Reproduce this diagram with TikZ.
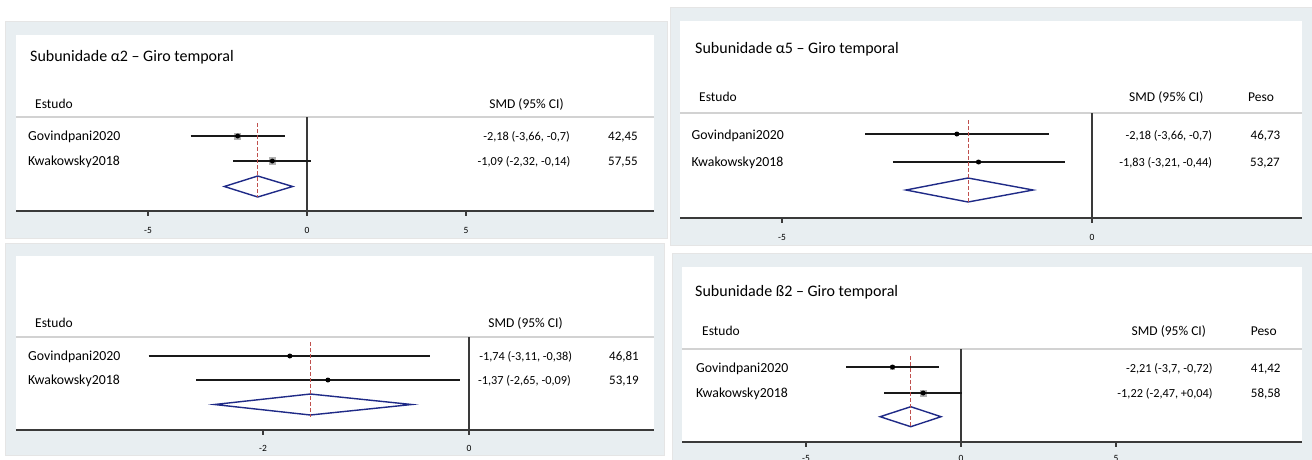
\documentclass[tikz,border=0pt]{standalone}
\usepackage{fontspec}
\setmainfont{Carlito}
\usetikzlibrary{positioning}
\definecolor{panelgray}{HTML}{E8EEF1}
\definecolor{diamondblue}{HTML}{1F2A87}
\definecolor{pooledred}{HTML}{C0504D}
\definecolor{rulegray}{HTML}{D2D2D2}
\definecolor{axisgray}{HTML}{3A3A3A}

\begin{document}
\begin{tikzpicture}[x=1pt, y=-1pt,
  panel/.style={fill=panelgray, draw=gray!20, line width=0.6pt},
  plotarea/.style={fill=white},
  title/.style={anchor=base west, inner sep=0pt, font=\fontsize{16}{19}\selectfont},
  header/.style={anchor=base, inner sep=0pt, font=\fontsize{13.5}{16}\selectfont},
  study/.style={anchor=base west, inner sep=0pt, font=\fontsize{13.8}{16}\selectfont},
  estimate/.style={anchor=base east, inner sep=0pt, font=\fontsize{12.3}{15}\selectfont},
  weight/.style={anchor=base west, inner sep=0pt, font=\fontsize{13}{15}\selectfont},
  ticklabel/.style={inner sep=0pt, font=\fontsize{9.5}{11}\selectfont},
  rule/.style={draw=rulegray, line width=1.4pt},
  axis/.style={draw=axisgray, line width=1.4pt},
  nullline/.style={draw=axisgray, line width=1.3pt},
  ci/.style={draw=black!90, line width=1.4pt},
  wbox/.style={fill=black!30, inner sep=0pt, minimum size=#1},
  point/.style={circle, fill=black, inner sep=0pt, minimum size=5pt},
  pooled/.style={draw=diamondblue, line width=1.4pt, line join=miter},
  overall/.style={draw=pooledred, line width=1pt, dash pattern=on 3.5pt off 2.5pt}]

\useasboundingbox (0,0) rectangle (1312,459);
\fill[white] (0,0) rectangle (1312,459);

% --- alpha2 (top left)
\draw[panel] (5,21) rectangle (667,238);
\fill[plotarea] (16,35) rectangle (654,211);
\node[title] (tl-title) at (30,61.5) {Subunidade α2 – Giro temporal};
\node[header, anchor=base west] (tl-estudo) at (35,108) {Estudo};
\node[header] (tl-smd) at (526.5,108) {SMD (95\% CI)};
\node[study] (tl-gov) at (28,140.5) {Govindpani2020};
\node[study] (tl-kwa) at (28,165.5) {Kwakowsky2018};
\node[estimate] (tl-gov-est) at (570,140.5) {-2,18 (-3,66, -0,7)};
\node[estimate] (tl-kwa-est) at (570.5,165.5) {-1,09 (-2,32, -0,14)};
\node[weight] (tl-gov-w) at (608,140.5) {42,45};
\node[weight] (tl-kwa-w) at (608,165.5) {57,55};
\coordinate (tl-rule-l) at (16,117);
\coordinate (tl-rule-r) at (654,117);
\coordinate (tl-axis-l) at (16,211);
\coordinate (tl-axis-r) at (654,211);
\draw[rule] (tl-rule-l) -- (tl-rule-r);
\draw[axis] (tl-axis-l) -- (tl-axis-r);
\begin{scope}[xshift=307pt, x=31.8pt]
  \coordinate (tl-null-top) at (0,117);
  \coordinate (tl-null-bot) at (0,211);
  \draw[nullline] (tl-null-top) -- (tl-null-bot);
  \foreach \t in {-5,0,5} {
    \coordinate (tl-tick\t) at (\t,211);
    \draw[axis, line width=1.2pt] (tl-tick\t) -- ++(0,5);
    \node[ticklabel] (tl-lab\t) at (\t,230) {\t};
  }
  \foreach \n/\y/\est/\lo/\hi/\w in {gov/136/-2.18/-3.66/-0.7/7pt, kwa/161/-1.09/-2.32/0.13/7.5pt} {
    \coordinate (tl-\n-lo) at (\lo,\y);
    \coordinate (tl-\n-hi) at (\hi,\y);
    \node[wbox=\w] (tl-\n-box) at (\est,\y) {};
    \draw[ci] (tl-\n-lo) -- (tl-\n-hi);
    \node[point] (tl-\n-pt) at (\est,\y) {};
  }
  \coordinate (tl-dl) at (-2.6,186.5);
  \coordinate (tl-dt) at (-1.55,176);
  \coordinate (tl-dr) at (-0.45,186.5);
  \coordinate (tl-db) at (-1.55,197);
  \draw[pooled] (tl-dl) -- (tl-dt) -- (tl-dr) -- (tl-db) -- cycle;
  \coordinate (tl-ov-top) at (-1.55,123);
  \coordinate (tl-ov-bot) at (-1.55,197);
  \draw[overall] (tl-ov-top) -- (tl-ov-bot);
\end{scope}

% --- alpha5 (top right)
\draw[panel] (670,7) rectangle (1320,245);
\fill[plotarea] (680,21) rectangle (1302,218);
\node[title] (tr-title) at (695,53.3) {Subunidade α5 – Giro temporal};
\node[header, anchor=base west] (tr-estudo) at (699,101.5) {Estudo};
\node[header] (tr-smd) at (1166.3,101) {SMD (95\% CI)};
\node[header] (tr-peso) at (1261,101) {Peso};
\node[study] (tr-gov) at (691.5,139) {Govindpani2020};
\node[study] (tr-kwa) at (691.5,166.5) {Kwakowsky2018};
\node[estimate] (tr-gov-est) at (1212.3,139) {-2,18 (-3,66, -0,7)};
\node[estimate] (tr-kwa-est) at (1212.3,166.5) {-1,83 (-3,21, -0,44)};
\node[weight] (tr-gov-w) at (1250.5,139) {46,73};
\node[weight] (tr-kwa-w) at (1250,166.5) {53,27};
\coordinate (tr-rule-l) at (680,113);
\coordinate (tr-rule-r) at (1302,113);
\coordinate (tr-axis-l) at (680,218);
\coordinate (tr-axis-r) at (1302,218);
\draw[rule] (tr-rule-l) -- (tr-rule-r);
\draw[axis] (tr-axis-l) -- (tr-axis-r);
\begin{scope}[xshift=1092pt, x=62pt]
  \coordinate (tr-null-top) at (0,113);
  \coordinate (tr-null-bot) at (0,218);
  \draw[nullline] (tr-null-top) -- (tr-null-bot);
  \foreach \t in {-5,0} {
    \coordinate (tr-tick\t) at (\t,218);
    \draw[axis, line width=1.2pt] (tr-tick\t) -- ++(0,5);
    \node[ticklabel] (tr-lab\t) at (\t,237) {\t};
  }
  \foreach \n/\y/\est/\lo/\hi/\w in {gov/134/-2.18/-3.66/-0.7/4pt, kwa/162/-1.83/-3.21/-0.44/4.5pt} {
    \coordinate (tr-\n-lo) at (\lo,\y);
    \coordinate (tr-\n-hi) at (\hi,\y);
    \node[wbox=\w] (tr-\n-box) at (\est,\y) {};
    \draw[ci] (tr-\n-lo) -- (tr-\n-hi);
    \node[point] (tr-\n-pt) at (\est,\y) {};
  }
  \coordinate (tr-dl) at (-3.0,190);
  \coordinate (tr-dt) at (-2.0,178);
  \coordinate (tr-dr) at (-0.95,190);
  \coordinate (tr-db) at (-2.0,202);
  \draw[pooled] (tr-dl) -- (tr-dt) -- (tr-dr) -- (tr-db) -- cycle;
  \coordinate (tr-ov-top) at (-2.0,120);
  \coordinate (tr-ov-bot) at (-2.0,204);
  \draw[overall] (tr-ov-top) -- (tr-ov-bot);
\end{scope}

% --- untitled (bottom left)
\draw[panel] (5,243) rectangle (664,455);
\fill[plotarea] (16,256) rectangle (654,430);
\node[header, anchor=base west] (bl-estudo) at (35,327) {Estudo};
\node[header] (bl-smd) at (525.5,327) {SMD (95\% CI)};
\node[study] (bl-gov) at (28,360.5) {Govindpani2020};
\node[study] (bl-kwa) at (28,384.5) {Kwakowsky2018};
\node[estimate] (bl-gov-est) at (572.3,360.5) {-1,74 (-3,11, -0,38)};
\node[estimate] (bl-kwa-est) at (571,384.5) {-1,37 (-2,65, -0,09)};
\node[weight] (bl-gov-w) at (609,360.5) {46,81};
\node[weight] (bl-kwa-w) at (609,384.5) {53,19};
\coordinate (bl-rule-l) at (16,337);
\coordinate (bl-rule-r) at (654,337);
\coordinate (bl-axis-l) at (16,430);
\coordinate (bl-axis-r) at (654,430);
\draw[rule] (bl-rule-l) -- (bl-rule-r);
\draw[axis] (bl-axis-l) -- (bl-axis-r);
\begin{scope}[xshift=469pt, x=103pt]
  \coordinate (bl-null-top) at (0,337);
  \coordinate (bl-null-bot) at (0,430);
  \draw[nullline] (bl-null-top) -- (bl-null-bot);
  \foreach \t in {-2,0} {
    \coordinate (bl-tick\t) at (\t,430);
    \draw[axis, line width=1.2pt] (bl-tick\t) -- ++(0,5);
    \node[ticklabel] (bl-lab\t) at (\t,448) {\t};
  }
  \foreach \n/\y/\est/\lo/\hi/\w in {gov/356/-1.74/-3.11/-0.38/4pt, kwa/380/-1.37/-2.65/-0.09/4.5pt} {
    \coordinate (bl-\n-lo) at (\lo,\y);
    \coordinate (bl-\n-hi) at (\hi,\y);
    \node[wbox=\w] (bl-\n-box) at (\est,\y) {};
    \draw[ci] (bl-\n-lo) -- (bl-\n-hi);
    \node[point] (bl-\n-pt) at (\est,\y) {};
  }
  \coordinate (bl-dl) at (-2.47,404.5);
  \coordinate (bl-dt) at (-1.54,394);
  \coordinate (bl-dr) at (-0.556,404.5);
  \coordinate (bl-db) at (-1.54,415);
  \draw[pooled] (bl-dl) -- (bl-dt) -- (bl-dr) -- (bl-db) -- cycle;
  \coordinate (bl-ov-top) at (-1.54,342);
  \coordinate (bl-ov-bot) at (-1.54,417);
  \draw[overall] (bl-ov-top) -- (bl-ov-bot);
\end{scope}

% --- beta2 (bottom right)
\draw[panel] (672,253) rectangle (1320,475);
\fill[plotarea] (682,267) rectangle (1302,442);
\node[title] (br-title) at (695,296.5) {Subunidade ß2 – Giro temporal};
\node[header, anchor=base west] (br-estudo) at (702,335) {Estudo};
\node[header] (br-smd) at (1168.8,335) {SMD (95\% CI)};
\node[header] (br-peso) at (1263.7,335) {Peso};
\node[study] (br-gov) at (696,372.5) {Govindpani2020};
\node[study] (br-kwa) at (696,397.5) {Kwakowsky2018};
\node[estimate] (br-gov-est) at (1212.7,372.5) {-2,21 (-3,7, -0,72)};
\node[estimate] (br-kwa-est) at (1212.7,397.5) {-1,22 (-2,47, +0,04)};
\node[weight] (br-gov-w) at (1250.7,372.5) {41,42};
\node[weight] (br-kwa-w) at (1250.7,397.5) {58,58};
\coordinate (br-rule-l) at (682,349);
\coordinate (br-rule-r) at (1302,349);
\coordinate (br-axis-l) at (682,442);
\coordinate (br-axis-r) at (1302,442);
\draw[rule] (br-rule-l) -- (br-rule-r);
\draw[axis] (br-axis-l) -- (br-axis-r);
\begin{scope}[xshift=961pt, x=31pt]
  \coordinate (br-null-top) at (0,349);
  \coordinate (br-null-bot) at (0,442);
  \draw[nullline] (br-null-top) -- (br-null-bot);
  \foreach \t in {-5,0,5} {
    \coordinate (br-tick\t) at (\t,442);
    \draw[axis, line width=1.2pt] (br-tick\t) -- ++(0,5);
    \node[ticklabel] (br-lab\t) at (\t,458.5) {\t};
  }
  \foreach \n/\y/\est/\lo/\hi/\w in {gov/367/-2.21/-3.7/-0.72/5pt, kwa/393/-1.22/-2.47/0.04/7pt} {
    \coordinate (br-\n-lo) at (\lo,\y);
    \coordinate (br-\n-hi) at (\hi,\y);
    \node[wbox=\w] (br-\n-box) at (\est,\y) {};
    \draw[ci] (br-\n-lo) -- (br-\n-hi);
    \node[point] (br-\n-pt) at (\est,\y) {};
  }
  \coordinate (br-dl) at (-2.61,416.7);
  \coordinate (br-dt) at (-1.62,406.7);
  \coordinate (br-dr) at (-0.645,416.7);
  \coordinate (br-db) at (-1.62,426.7);
  \draw[pooled] (br-dl) -- (br-dt) -- (br-dr) -- (br-db) -- cycle;
  \coordinate (br-ov-top) at (-1.62,356);
  \coordinate (br-ov-bot) at (-1.62,427);
  \draw[overall] (br-ov-top) -- (br-ov-bot);
\end{scope}
\end{tikzpicture}
\end{document}
